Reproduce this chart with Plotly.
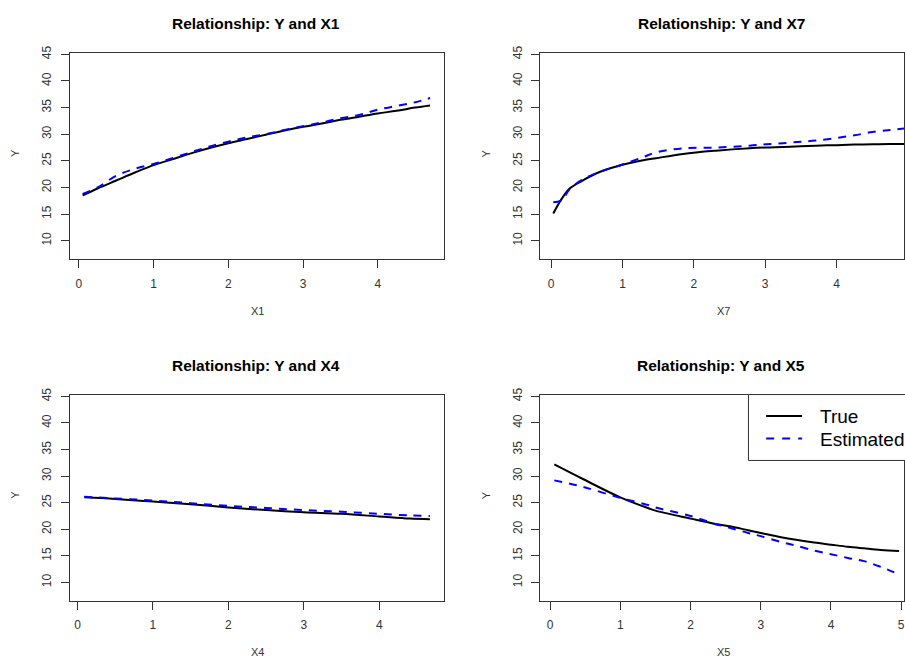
import plotly.graph_objects as go

W, H = 905, 662

# ---- data ----
x1_grid = [0.05, 0.25, 0.5, 0.75, 1.0, 1.25, 1.5, 1.75, 2.0, 2.25, 2.5, 2.75, 3.0, 3.25, 3.5, 3.75, 4.0, 4.25, 4.5, 4.7]
x1_true = [18.5, 19.8, 21.3, 22.8, 24.2, 25.3, 26.4, 27.4, 28.3, 29.1, 29.9, 30.7, 31.4, 32.0, 32.7, 33.3, 33.9, 34.4, 35.0, 35.4]
x1_est = [18.8, 20.0, 22.2, 23.5, 24.4, 25.5, 26.6, 27.7, 28.6, 29.4, 30.0, 30.8, 31.5, 32.2, 33.0, 33.6, 34.6, 35.3, 36.0, 36.8]

x7_grid = [0.03, 0.15, 0.26, 0.44, 0.68, 1.0, 1.29, 1.47, 1.85, 2.31, 2.78, 3.01, 3.25, 3.5, 3.71, 4.0, 4.25, 4.5, 4.75, 4.95]
x7_true = [15.1, 17.9, 19.8, 21.3, 22.9, 24.25, 25.1, 25.5, 26.3, 26.9, 27.35, 27.5, 27.6, 27.75, 27.85, 27.95, 28.05, 28.1, 28.15, 28.15]
x7_est = [17.2, 17.6, 19.7, 21.5, 22.9, 24.3, 25.7, 26.6, 27.35, 27.5, 27.85, 28.1, 28.3, 28.6, 28.8, 29.3, 29.8, 30.4, 30.8, 31.1]

x4_grid = [0.09, 0.5, 1.0, 1.5, 2.0, 2.5, 3.0, 3.5, 4.0, 4.4, 4.67]
x4_true = [26.0, 25.7, 25.2, 24.7, 24.1, 23.6, 23.2, 22.9, 22.4, 22.0, 21.9]
x4_est = [26.1, 25.8, 25.4, 24.9, 24.4, 24.0, 23.6, 23.3, 22.9, 22.6, 22.5]

x5_grid = [0.06, 0.46, 1.0, 1.41, 1.5, 2.0, 2.35, 2.58, 2.82, 3.0, 3.29, 3.48, 3.76, 4.0, 4.24, 4.47, 4.71, 4.97]
x5_true = [32.2, 29.5, 26.0, 23.9, 23.5, 22.0, 21.0, 20.5, 19.8, 19.3, 18.5, 18.05, 17.5, 17.1, 16.7, 16.4, 16.1, 15.9]
x5_est = [29.2, 28.0, 25.9, 24.5, 24.1, 22.5, 21.0, 20.2, 19.3, 18.7, 17.6, 17.0, 16.0, 15.3, 14.6, 14.0, 12.9, 11.5]

panels = [
    ("X1", x1_grid, x1_true, x1_est),
    ("X7", x7_grid, x7_true, x7_est),
    ("X4", x4_grid, x4_true, x4_est),
    ("X5", x5_grid, x5_true, x5_est),
]
y_ticks = [10, 15, 20, 25, 30, 35, 40, 45]
x_ticks = [0, 1, 2, 3, 4, 5]
legend_labels = ["True", "Estimated"]

# ---- layout geometry (pixels) ----
def px(x):
    return x / W

def py(y):
    return 1 - y / H

boxes = [  # left, right, top, bottom (px), xrange
    (70, 444, 46, 255, [-0.12, 4.88]),
    (541, 905, 46, 255, [-0.15, 4.945]),
    (70, 444, 391.7, 600.3, [-0.10, 4.85]),
    (541, 905, 391.7, 600.3, [-0.138, 5.04]),
]
y_range = [6.5, 45.35]

fig = go.Figure()
annotations = []
shapes = []
font_txt = "Liberation Sans, Arial, sans-serif"

for i, ((name, xs, yt, ye), (l, r, t, b, xr)) in enumerate(zip(panels, boxes)):
    k = "" if i == 0 else str(i + 1)
    xa, ya = "x" + k, "y" + k
    fig.add_trace(go.Scatter(x=xs, y=yt, xaxis=xa, yaxis=ya, mode="lines",
                             line=dict(color="black", width=2), showlegend=False,
                             line_shape="spline"))
    fig.add_trace(go.Scatter(x=xs, y=ye, xaxis=xa, yaxis=ya, mode="lines",
                             line=dict(color="#0000FF", width=2, dash="8px,7px"),
                             showlegend=False, line_shape="spline"))
    common = dict(showgrid=False, zeroline=False, showline=True, mirror=True,
                  linecolor="#333333", linewidth=1, ticks="outside", ticklen=8,
                  tickcolor="#333333", tickwidth=1, ticklabelstandoff=5,
                  tickfont=dict(family=font_txt, size=12, color="#333333"))
    fig.update_layout(**{
        "xaxis" + k: dict(domain=[px(l), px(r)], range=xr, anchor=ya,
                          tickmode="array", tickvals=x_ticks, **common),
        "yaxis" + k: dict(domain=[py(b), py(t)], range=y_range, anchor=xa,
                          tickmode="array", tickvals=y_ticks, tickangle=-90, **common),
    })
    cx = (l + r) / 2 if r < 905 else 723
    annotations.append(dict(x=px(cx - 1), y=py(t - 29.5), xref="paper", yref="paper",
                            text="<b>Relationship: Y and " + name + "</b>", showarrow=False,
                            font=dict(family=font_txt, size=15.5, color="black"),
                            xanchor="center", yanchor="middle"))
    annotations.append(dict(x=px(cx + 1), y=py(b + 52), xref="paper", yref="paper",
                            text=name, showarrow=False,
                            font=dict(family=font_txt, size=11, color="#333333"),
                            xanchor="center", yanchor="middle"))
    annotations.append(dict(x=px(l - 55), y=py((t + b) / 2 - 3), xref="paper", yref="paper",
                            text="Y", showarrow=False, textangle=-90,
                            font=dict(family=font_txt, size=11, color="#333333"),
                            xanchor="center", yanchor="middle"))

# ---- manual legend in the bottom-right panel ----
shapes.append(dict(type="rect", xref="paper", yref="paper",
                   x0=px(749.3), x1=px(930), y0=py(458.3), y1=py(391.7),
                   line=dict(color="#333333", width=1), fillcolor="white", layer="above"))
shapes.append(dict(type="line", xref="paper", yref="paper",
                   x0=px(767), x1=px(803), y0=py(413.3), y1=py(413.3),
                   line=dict(color="black", width=2), layer="above"))
shapes.append(dict(type="line", xref="paper", yref="paper",
                   x0=px(767), x1=px(803), y0=py(436), y1=py(436),
                   line=dict(color="#0000FF", width=2, dash="8px,8px"), layer="above"))
annotations.append(dict(x=px(819), y=py(414), xref="paper", yref="paper", text=legend_labels[0],
                        showarrow=False, xanchor="left", yanchor="middle",
                        font=dict(family=font_txt, size=19, color="black")))
annotations.append(dict(x=px(819), y=py(437), xref="paper", yref="paper", text=legend_labels[1],
                        showarrow=False, xanchor="left", yanchor="middle",
                        font=dict(family=font_txt, size=19, color="black")))

fig.update_layout(width=W, height=H, margin=dict(l=0, r=0, t=0, b=0),
                  paper_bgcolor="white", plot_bgcolor="white",
                  annotations=annotations, shapes=shapes, showlegend=False)

fig.write_html("out.html", config={"displayModeBar": False},
               post_script="document.body.style.margin='0';document.body.style.overflow='hidden';")
